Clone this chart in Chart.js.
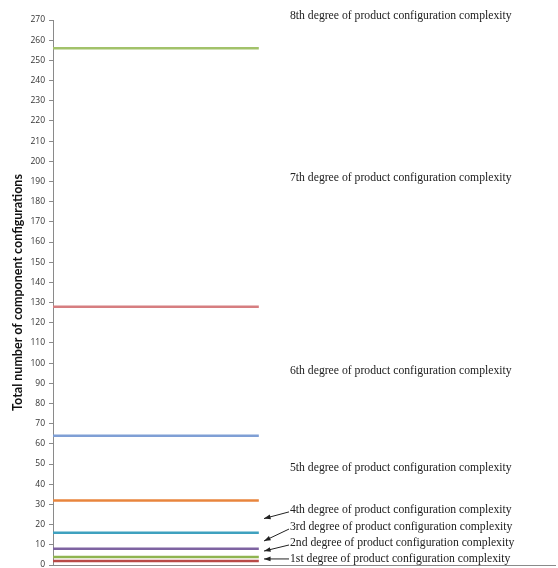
<!DOCTYPE html>
<html>
<head>
<meta charset="utf-8">
<script src="https://cdn.jsdelivr.net/npm/chart.js@4/dist/chart.umd.min.js"></script>
<style>
  html, body { margin: 0; padding: 0; background: #fff; }
  #wrap { width: 558px; height: 568px; }
</style>
</head>
<body>
<div id="wrap"><canvas id="mychart"></canvas></div>
<script>
// degrees of complexity and number of configurations
var degreeNames = ['1st', '2nd', '3rd', '4th', '5th', '6th', '7th', '8th'];
var configCounts = [2, 4, 8, 16, 32, 64, 128, 256];
var lineColors = ['#B94A47', '#8FB450', '#7E63A1', '#3FA1BF', '#E8853D', '#7F9FD5', '#D67E80', '#A2C26A'];
// horizontal span of each line on the (hidden) x scale
var spanX = [0, 41];

var yTicks = [];
for (var t = 0; t <= 270; t += 10) yTicks.push(t);

// where each caption sits (in y-axis units) and where its arrow points
var captionY = [3.0, 10.9, 18.8, 27.3, 48, 96, 192, 272];
var arrowTipY = [3.0, 6.9, 11.9, 23.0, null, null, null, null];

var datasets = [];
for (var i = 0; i < configCounts.length; i++) {
  datasets.push({
    label: degreeNames[i],
    data: [{ x: spanX[0], y: configCounts[i] }, { x: spanX[1], y: configCounts[i] }],
    borderColor: lineColors[i],
    backgroundColor: lineColors[i],
    borderWidth: 2.5,
    pointRadius: 0,
    fill: false
  });
}

const captions = {
  id: 'captions',
  afterDraw: function(chart) {
    var ctx = chart.ctx;
    var ys = chart.scales.y;
    ctx.save();
    ctx.font = '11.7px "Liberation Serif", "Times New Roman", serif';
    ctx.fillStyle = '#1a1a1a';
    ctx.textBaseline = 'middle';
    for (var i = 0; i < degreeNames.length; i++) {
      var py = ys.getPixelForValue(captionY[i]);
      ctx.fillText(degreeNames[i] + ' degree of product configuration complexity', 290, py);
      if (arrowTipY[i] !== null) {
        var tx = 264, ty = ys.getPixelForValue(arrowTipY[i]);
        var sx = 289, sy = py + (i === 0 ? 0 : 2);
        ctx.strokeStyle = '#222';
        ctx.lineWidth = 1;
        ctx.beginPath();
        ctx.moveTo(sx, sy);
        ctx.lineTo(tx, ty);
        ctx.stroke();
        var a = Math.atan2(ty - sy, tx - sx);
        ctx.beginPath();
        ctx.moveTo(tx, ty);
        ctx.lineTo(tx - 7 * Math.cos(a - 0.35), ty - 7 * Math.sin(a - 0.35));
        ctx.lineTo(tx - 7 * Math.cos(a + 0.35), ty - 7 * Math.sin(a + 0.35));
        ctx.closePath();
        ctx.fillStyle = '#222';
        ctx.fill();
      }
    }
    ctx.restore();
  }
};

function noPad(s) {
  s.paddingTop = 0; s.paddingBottom = 0; s.paddingLeft = 0; s.paddingRight = 0;
}

const chart = new Chart(document.getElementById('mychart'), {
  type: 'line',
  data: { datasets: datasets },
  plugins: [captions],
  options: {
    responsive: true,
    maintainAspectRatio: false,
    animation: false,
    layout: { padding: { top: 20, right: 3, bottom: 2, left: 0 } },
    plugins: { legend: { display: false }, tooltip: { enabled: false } },
    scales: {
      x: {
        type: 'linear',
        min: 0,
        max: 100,
        ticks: { display: false },
        grid: { display: false },
        border: { display: true, color: '#8a8a8a', width: 1 },
        afterFit: function(s) { s.height = 1; noPad(s); }
      },
      y: {
        min: 0,
        max: 270,
        afterBuildTicks: function(s) { s.ticks = yTicks.map(function(v) { return { value: v }; }); },
        ticks: {
          color: '#333',
          font: { family: 'Open Sans, "DejaVu Sans", sans-serif', size: 8.5 },
          padding: 4
        },
        grid: { drawOnChartArea: false, drawTicks: true, tickLength: 4, color: '#8a8a8a' },
        border: { display: true, color: '#8a8a8a', width: 1 },
        title: {
          display: true,
          text: 'Total number of component configurations',
          color: '#111',
          font: { family: 'Lato, sans-serif', size: 12.5, weight: 'bold' },
          padding: { top: 10, bottom: 0 }
        },
        afterFit: function(s) { s.width = 53; noPad(s); }
      }
    }
  }
});
</script>
</body>
</html>
